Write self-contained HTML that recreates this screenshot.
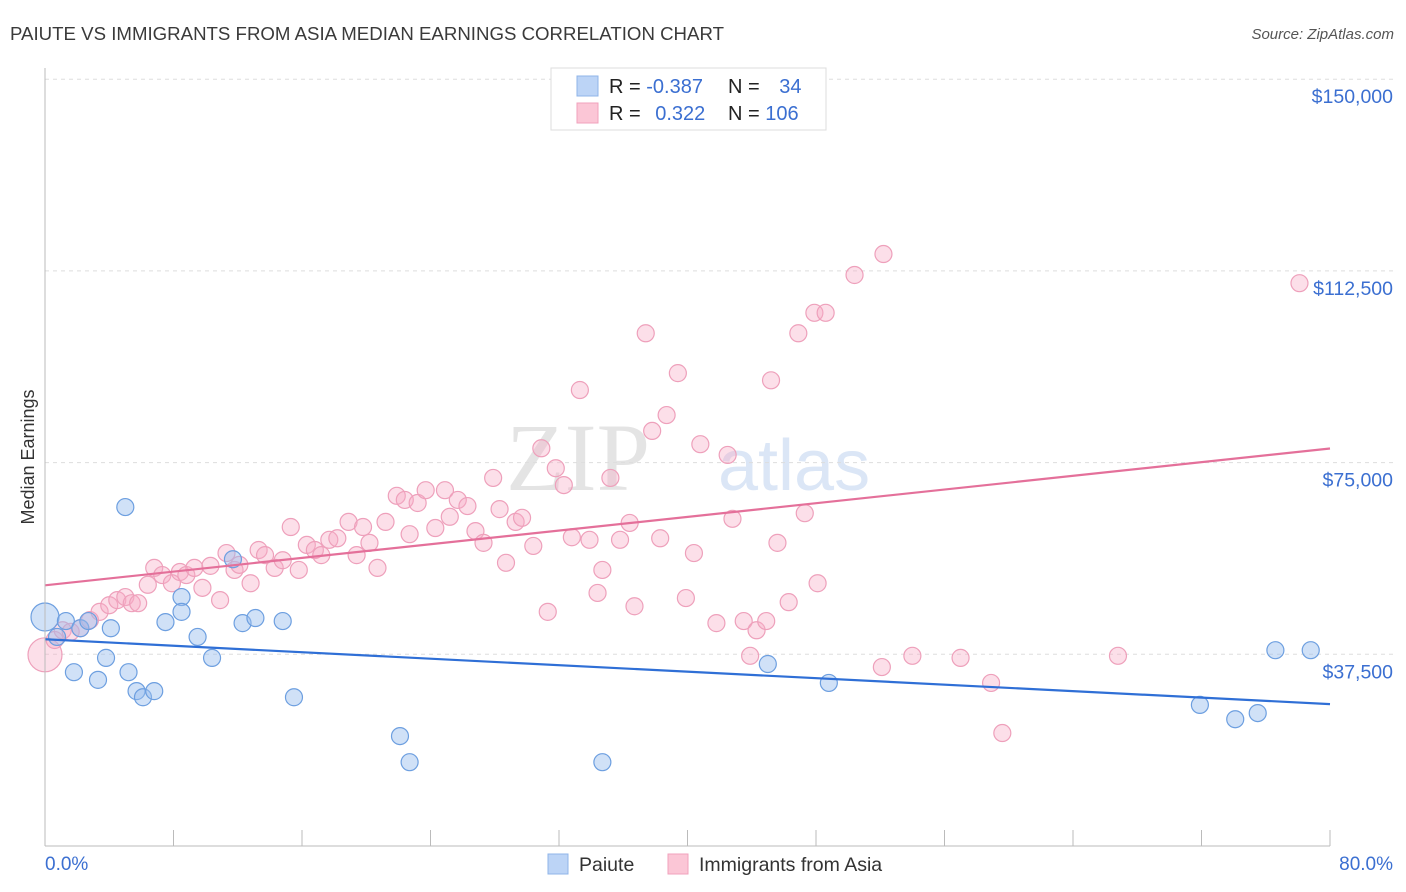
<!DOCTYPE html>
<html><head><meta charset="utf-8"><style>
body{margin:0;background:#fff;font-family:"Liberation Sans",sans-serif;}
#wrap{position:relative;width:1406px;height:892px;overflow:hidden}
</style></head><body>
<div id="wrap">
<svg id="chart" width="1406" height="892" xmlns="http://www.w3.org/2000/svg">
<text x="10" y="40" font-size="18" fill="#3a3a3a" textLength="714" lengthAdjust="spacingAndGlyphs">PAIUTE VS IMMIGRANTS FROM ASIA MEDIAN EARNINGS CORRELATION CHART</text>
<text x="1394" y="39" font-size="15" fill="#555" font-style="italic" text-anchor="end">Source: ZipAtlas.com</text>
<text x="650" y="490" font-size="96" fill="#e4e4e4" text-anchor="end" font-family="Liberation Serif,serif">ZIP</text>
<text x="718" y="490" font-size="72" fill="#dbe6f6">atlas</text>
<text transform="translate(34,457) rotate(-90)" font-size="18" fill="#333" text-anchor="middle">Median Earnings</text>
<g id="grid"></g><g id="marks"></g><g id="lines"></g>
<line x1="45" y1="68" x2="45" y2="846" stroke="#bbb"/>
<line x1="45" y1="846" x2="1330" y2="846" stroke="#bbb"/>
<text x="45" y="870" font-size="19" fill="#3b6fd1">0.0%</text>
<text x="1393" y="870" font-size="19" fill="#3b6fd1" text-anchor="end">80.0%</text>
<g>
<rect x="551" y="68" width="275" height="62" fill="#fff" stroke="#ddd"/>
<rect x="577" y="76" width="21" height="20" fill="#bcd4f6" stroke="#8fb4e8"/>
<rect x="577" y="103" width="21" height="20" fill="#fbc6d6" stroke="#f0a2bc"/>
<text x="609" y="93" font-size="20" fill="#222">R = <tspan fill="#3b6fd1">-0.387</tspan></text>
<text x="728" y="93" font-size="20" fill="#222">N = <tspan fill="#3b6fd1" dx="14">34</tspan></text>
<text x="609" y="120" font-size="20" fill="#222">R = <tspan fill="#3b6fd1" dx="9">0.322</tspan></text>
<text x="728" y="120" font-size="20" fill="#222">N = <tspan fill="#3b6fd1">106</tspan></text>
</g>
<g>
<rect x="548" y="854" width="20" height="20" fill="#bcd4f6" stroke="#8fb4e8"/>
<text x="579" y="871" font-size="19.5" fill="#333">Paiute</text>
<rect x="668" y="854" width="20" height="20" fill="#fbc6d6" stroke="#f0a2bc"/>
<text x="699" y="871" font-size="19.5" fill="#333">Immigrants from Asia</text>
</g>
</svg></div>
<script>
const yTicks=[37500,75000,112500,150000];
const yTickLabels=["$37,500","$75,000","$112,500","$150,000"];
const xTicks=[0,8,16,24,32,40,48,56,64,72,80];
const paiuteX=[0,0.75,1.3,1.8,2.2,2.7,3.3,3.8,4.1,5.0,5.2,5.7,6.1,6.8,7.5,8.5,8.5,9.5,10.4,11.7,12.3,13.1,14.8,15.5,22.1,22.7,34.7,45.0,48.8,71.9,74.1,75.5,76.6,78.8];
const paiuteY=[44800,40900,44000,34000,42600,44000,32500,36800,42600,66300,34000,30300,29100,30300,43800,48700,45800,40900,36800,56100,43600,44600,44000,29100,21500,16400,16400,35600,31900,27600,24800,26000,38300,38300];
const asiaX=[0,0.6,1.1,1.6,2.2,2.8,3.4,4.0,4.5,5.0,5.4,5.8,6.4,6.8,7.3,7.9,8.4,8.8,9.3,9.8,10.3,10.9,11.3,11.8,12.1,12.8,13.3,13.7,14.3,14.8,15.3,15.8,16.3,16.8,17.2,17.7,18.2,18.9,19.4,19.8,20.2,20.7,21.2,21.9,22.4,22.7,23.2,23.7,24.3,24.9,25.2,25.7,26.3,26.8,27.3,27.9,28.3,28.7,29.3,29.7,30.4,30.9,31.3,31.8,32.3,32.8,33.3,33.9,34.4,34.7,35.2,35.8,36.4,36.7,37.4,37.8,38.3,38.7,39.4,39.9,40.4,40.8,41.8,42.5,42.8,43.5,43.9,44.3,44.9,45.2,45.6,46.3,46.9,47.3,47.9,48.1,48.6,50.4,52.1,52.2,54.0,57.0,58.9,59.6,66.8,78.1];
const asiaY=[37400,40300,42200,41900,42600,44200,45800,47100,48100,48700,47500,47500,51100,54400,53000,51400,53600,53000,54400,50500,54800,48100,57300,54000,55000,51400,57900,56900,54400,55900,62400,54000,58900,57900,56900,59900,60200,63400,56900,62400,59300,54400,63400,68500,67700,61000,67100,69600,62200,69600,64400,67700,66500,61600,59300,72000,65900,55400,63400,64200,58700,77800,45800,73900,70600,60400,89200,59900,49500,54000,72000,59900,63200,46900,100300,81200,60200,84300,92500,48500,57300,78600,43600,76500,64000,44000,37200,42200,44000,91100,59300,47700,100300,65100,104300,51400,104300,111700,35000,115800,37200,36800,31900,22100,37200,110100];
const NS="http://www.w3.org/2000/svg";
const X=v=>45+v/80*1285;
const Y=v=>846-v/37500*191.7;
function mk(tag,attrs,parent){const e=document.createElementNS(NS,tag);for(const k in attrs)e.setAttribute(k,attrs[k]);parent.appendChild(e);return e;}
const grid=document.getElementById('grid'),marks=document.getElementById('marks'),lines=document.getElementById('lines');
yTicks.forEach((t,i)=>{
 const l=mk('line',{x1:45,x2:1394,y1:Y(t),y2:Y(t),stroke:'#ddd','stroke-dasharray':'4,4'},grid);
 
 
 const tx=mk('text',{x:1393,y:Y(t)+24,'font-size':19.5,fill:'#3b6fd1','text-anchor':'end'},grid);
 tx.textContent=yTickLabels[i];
 
 
});
xTicks.forEach(t=>{
 const l=mk('line',{x1:X(t),x2:X(t),y1:830,y2:846,stroke:'#bbb'},grid);
 
 
});
function scatter(xs,ys,fill,stroke,name){
 xs.forEach((x,i)=>{
  const r=(i===0)?(name==='asia-point'?17:14):8.5;
  const c=mk('circle',{cx:X(x),cy:Y(ys[i]),r:r,fill:fill,stroke:stroke,'stroke-width':1.2},marks);
  
  
 });
}
scatter(asiaX,asiaY,'rgba(246,170,196,0.38)','#eea0bb','asia-point');
scatter(paiuteX,paiuteY,'rgba(150,188,238,0.45)','#6d9fe0','paiute-point');
function fit(xs,ys){const n=xs.length;let mx=0,my=0;for(let i=0;i<n;i++){mx+=xs[i];my+=ys[i];}mx/=n;my/=n;let sxy=0,sxx=0;for(let i=0;i<n;i++){sxy+=(xs[i]-mx)*(ys[i]-my);sxx+=(xs[i]-mx)**2;}const b=sxy/sxx;return[my-b*mx,b];}
function trend(xs,ys,color,name){const [a,b]=fit(xs,ys);const l=mk('line',{x1:X(0),y1:Y(a),x2:X(80),y2:Y(a+b*80),stroke:color,'stroke-width':2.2},lines);
 
 }
trend(paiuteX,paiuteY,'#2f6fd6','paiute-trend-line');
trend(asiaX,asiaY,'#e4709a','asia-trend-line');
</script>
</body></html>
